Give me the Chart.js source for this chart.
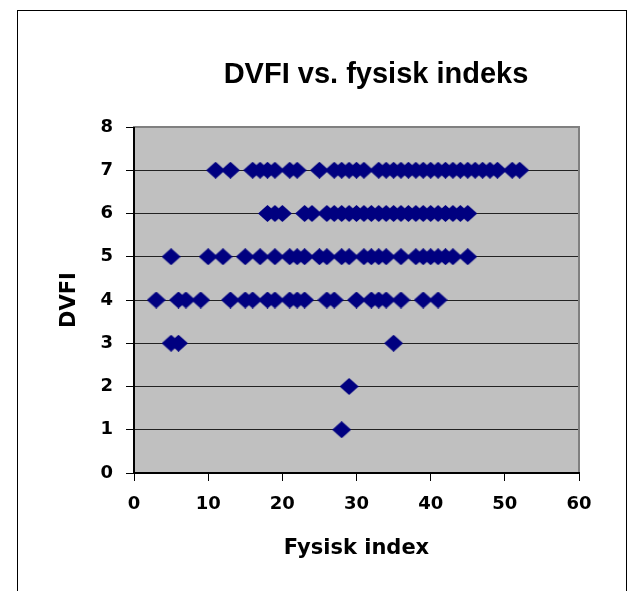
<!DOCTYPE html>
<html>
<head>
<meta charset="utf-8">
<script src="https://cdn.jsdelivr.net/npm/chart.js@4.4.0/dist/chart.umd.min.js"></script>
<style>
html, body { margin: 0; padding: 0; background: #fff; }
#wrap { position: relative; width: 635px; height: 591px; overflow: hidden; }
#frame { position: absolute; left: 17px; top: 10px; width: 608px; height: 640px; border: 1px solid #000; }
canvas { position: absolute; left: 0; top: 0; }
</style>
</head>
<body>
<div id="wrap">
  <div id="frame"></div>
  <canvas id="chart" width="635" height="591"></canvas>
</div>
<script>
// fysisk index values per DVFI level
const dvfi7 = [11, 13, 16, 17, 18, 19, 21, 22, 25, 27, 28, 29, 30, 31, 33, 34, 35, 36, 37, 38, 39, 40, 41, 42, 43, 44, 45, 46, 47, 48, 49, 51, 52];
const dvfi6 = [18, 19, 20, 23, 24, 26, 27, 28, 29, 30, 31, 32, 33, 34, 35, 36, 37, 38, 39, 40, 41, 42, 43, 44, 45];
const dvfi5 = [5, 10, 12, 15, 17, 19, 21, 22, 23, 25, 26, 28, 29, 31, 32, 33, 34, 36, 38, 39, 40, 41, 42, 43, 45];
const dvfi4 = [3, 6, 7, 9, 13, 15, 16, 18, 19, 21, 22, 23, 26, 27, 30, 32, 33, 34, 36, 39, 41];
const dvfi3 = [5, 6, 35];
const dvfi2 = [29];
const dvfi1 = [28];

const levels = [7, 6, 5, 4, 3, 2, 1];
const xByLevel = [dvfi7, dvfi6, dvfi5, dvfi4, dvfi3, dvfi2, dvfi1];

const points = [];
levels.forEach((lvl, i) => xByLevel[i].forEach(v => points.push({ x: v, y: lvl })));

function diamondMarker() {
  const c = document.createElement('canvas');
  c.width = 19; c.height = 17;
  const g = c.getContext('2d');
  g.fillStyle = '#000080';
  g.beginPath();
  g.moveTo(9.5, 0); g.lineTo(19, 8.5); g.lineTo(9.5, 17); g.lineTo(0, 8.5);
  g.closePath();
  g.fill();
  return c;
}

const axisFont = { family: 'DejaVu Sans', weight: 'bold', size: 18 };
const titleFont = { family: 'DejaVu Sans', weight: 'bold', size: 21 };

const plotFrame = {
  id: 'plotFrame',
  beforeDraw(chart) {
    const { ctx, chartArea: a } = chart;
    ctx.save();
    ctx.fillStyle = '#c0c0c0';
    ctx.fillRect(a.left, a.top, a.right - a.left, a.bottom - a.top);
    ctx.restore();
  },
  beforeDatasetsDraw(chart) {
    const { ctx, chartArea: a } = chart;
    ctx.save();
    ctx.strokeStyle = '#808080';
    ctx.lineWidth = 2;
    ctx.strokeRect(a.left, a.top, a.right - a.left, a.bottom - a.top);
    ctx.strokeStyle = '#000';
    ctx.beginPath();
    ctx.moveTo(a.left, a.top); ctx.lineTo(a.left, a.bottom + 1);
    ctx.moveTo(a.left - 1, a.bottom); ctx.lineTo(a.right + 1, a.bottom);
    ctx.stroke();
    ctx.restore();
  },
  afterDraw(chart) {
    const ctx = chart.ctx;
    ctx.save();
    ctx.fillStyle = '#000';
    ctx.font = 'bold 29px "Liberation Sans", Arial, sans-serif';
    ctx.textAlign = 'center';
    ctx.textBaseline = 'alphabetic';
    ctx.fillText('DVFI vs. fysisk indeks', 376, 83);
    ctx.restore();
  }
};

new Chart(document.getElementById('chart'), {
  type: 'scatter',
  data: {
    datasets: [{
      data: points,
      pointStyle: diamondMarker(),
      pointRadius: 9,
      backgroundColor: '#000080',
      borderColor: '#000080'
    }]
  },
  options: {
    responsive: false,
    animation: false,
    layout: { padding: { left: 0, top: 127, right: 56, bottom: 0 } },
    plugins: { legend: { display: false }, tooltip: { enabled: false } },
    scales: {
      x: {
        type: 'linear', min: 0, max: 60,
        ticks: { stepSize: 10, color: '#000', font: axisFont, padding: 13, maxRotation: 0 },
        grid: { drawOnChartArea: false, drawTicks: true, tickLength: 8, tickColor: '#000' },
        border: { display: false },
        title: { display: true, text: 'Fysisk index', color: '#000', font: titleFont, padding: { top: 0, bottom: 30 } },
        afterFit(s) { s.height = 118; }
      },
      y: {
        min: 0, max: 8,
        ticks: { stepSize: 1, color: '#000', font: axisFont, padding: 13 },
        grid: { color: '#222', lineWidth: 1, drawTicks: true, tickLength: 8, tickColor: '#000' },
        border: { display: false },
        title: { display: true, text: 'DVFI', color: '#000', font: titleFont, padding: { top: 57, bottom: 0 } },
        afterFit(s) { s.width = 134; }
      }
    }
  },
  plugins: [plotFrame]
});
</script>
</body>
</html>
